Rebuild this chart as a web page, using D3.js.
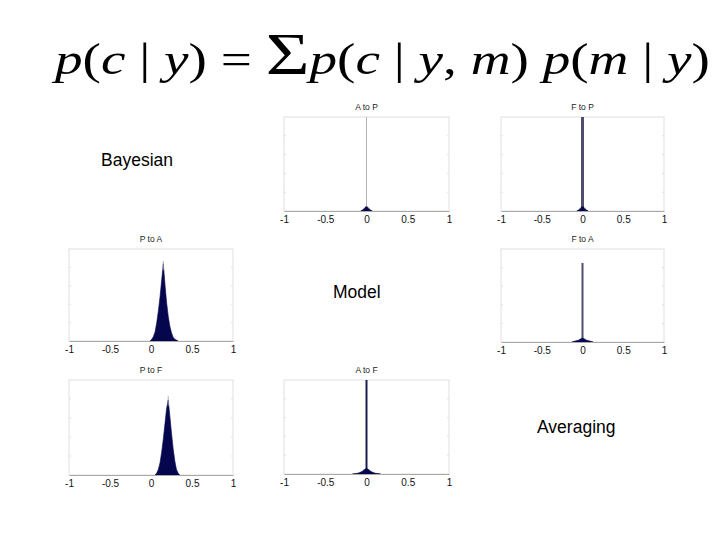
<!DOCTYPE html>
<html><head><meta charset="utf-8">
<script src="https://cdn.jsdelivr.net/npm/d3@7"></script>
<style>body{margin:0;background:#fff}svg{display:block}</style>
</head><body>
<svg id="c" width="720" height="540"></svg>
<script>
// ---- data ----
const xTicks = [-1, -0.5, 0, 0.5, 1];
const xTickLabels = ["-1", "-0.5", "0", "0.5", "1"];
const panelTitles = ["A to P", "F to P", "P to A", "F to A", "P to F", "A to F"];
const binWidth = 0.02;

// bin centres and heights (fraction of axis height)
const atoPx = [-0.05, -0.03, -0.01, 0.01, 0.03, 0.05];
const atoPy = [0.01, 0.025, 0.045, 0.045, 0.025, 0.01];
const ftoPx = [-0.05, -0.03, -0.01, 0.01, 0.03, 0.05];
const ftoPy = [0.01, 0.025, 0.045, 0.045, 0.025, 0.01];
const ptoAx = [0.01, 0.03, 0.05, 0.07, 0.09, 0.11, 0.13, 0.15, 0.17, 0.19, 0.21, 0.23, 0.25, 0.27, 0.29, 0.31];
const ptoAy = [0.02, 0.05, 0.10, 0.20, 0.33, 0.48, 0.66, 0.84, 0.62, 0.42, 0.27, 0.16, 0.09, 0.04, 0.02, 0.01];
const ftoAx = [-0.11, -0.09, -0.07, -0.05, -0.03, -0.01, 0.01, 0.03, 0.05, 0.07, 0.09, 0.11];
const ftoAy = [0.005, 0.01, 0.015, 0.02, 0.03, 0.04, 0.04, 0.03, 0.02, 0.015, 0.01, 0.005];
const ptoFx = [0.07, 0.09, 0.11, 0.13, 0.15, 0.17, 0.19, 0.21, 0.23, 0.25, 0.27, 0.29, 0.31, 0.33];
const ptoFy = [0.02, 0.06, 0.13, 0.24, 0.38, 0.54, 0.70, 0.79, 0.62, 0.44, 0.28, 0.15, 0.06, 0.02];
const atoFx = [-0.15, -0.13, -0.11, -0.09, -0.07, -0.05, -0.03, -0.01, 0.01, 0.03, 0.05, 0.07, 0.09, 0.11, 0.13, 0.15];
const atoFy = [0.003, 0.005, 0.008, 0.012, 0.02, 0.03, 0.045, 0.055, 0.055, 0.045, 0.03, 0.02, 0.012, 0.008, 0.005, 0.003];

const binXs = [atoPx, ftoPx, ptoAx, ftoAx, ptoFx, atoFx];
const binYs = [atoPy, ftoPy, ptoAy, ftoAy, ptoFy, atoFy];
// spike at zero (fraction of axis height), null = none
const spikeHeights = [1.0, 1.0, null, 0.85, null, 1.0];
const peakLines = [null, null, [0.15, 0.87], null, [0.21, 0.83], null];

const textLabels = ["Bayesian", "Model", "Averaging"];

// ---- layout (styling only) ----
const boxes = [
  {l: 284, r: 449, t: 117, b: 211},
  {l: 501, r: 664, t: 117, b: 211},
  {l: 69,  r: 233, t: 249, b: 341},
  {l: 501, r: 664, t: 249, b: 342},
  {l: 69,  r: 233, t: 380, b: 475},
  {l: 284, r: 449, t: 380, b: 474}
];
const spikeStyle = [
  {c: "#b4b4b4", w: 1},
  {c: "#4e4e6e", w: 3},
  null,
  {c: "#4e4e6e", w: 2},
  null,
  {c: "#1c1c4c", w: 2}
];
const navy = "#06064e";

const svg = d3.select("#c");

boxes.forEach((bx, i) => {
  const x = d3.scaleLinear().domain([-1, 1]).range([bx.l, bx.r]);
  const y = d3.scaleLinear().domain([0, 1]).range([bx.b, bx.t]);
  const g = svg.append("g");

  // frame
  g.append("rect").attr("x", bx.l).attr("y", bx.t)
    .attr("width", bx.r - bx.l).attr("height", bx.b - bx.t)
    .attr("fill", "none").attr("stroke", "#e0e0e0").attr("stroke-width", 1);

  // faint y ticks on both sides
  const yt = [0.2, 0.4, 0.6, 0.8];
  yt.forEach(v => {
    g.append("line").attr("x1", bx.l).attr("x2", bx.l + 2).attr("y1", y(v)).attr("y2", y(v)).attr("stroke", "#e0e0e0");
    g.append("line").attr("x1", bx.r - 2).attr("x2", bx.r).attr("y1", y(v)).attr("y2", y(v)).attr("stroke", "#e0e0e0");
  });

  // spike
  if (spikeHeights[i] != null) {
    const s = spikeStyle[i];
    g.append("line").attr("x1", x(0)).attr("x2", x(0))
      .attr("y1", y(0)).attr("y2", y(spikeHeights[i]))
      .attr("stroke", s.c).attr("stroke-width", s.w);
  }

  // histogram as a filled area through bin centres
  const xs = binXs[i], ys = binYs[i];
  const pts = xs.map((cx, k) => [cx, ys[k]]);
  pts.unshift([xs[0] - binWidth, 0]);
  pts.push([xs[xs.length - 1] + binWidth, 0]);
  const area = d3.area().curve(d3.curveLinear)
    .x(d => x(d[0])).y0(y(0)).y1(d => y(d[1]));
  g.append("path").attr("d", area(pts))
    .attr("fill", navy).attr("stroke", navy).attr("stroke-width", 0.6);

  if (peakLines[i]) {
    const [px, ph] = peakLines[i];
    g.append("line").attr("x1", x(px)).attr("x2", x(px))
      .attr("y1", y(ph - 0.1)).attr("y2", y(ph))
      .attr("stroke", "#9a9aaa").attr("stroke-width", 0.8);
  }

  // x axis
  const axis = d3.axisBottom(x).tickValues(xTicks).tickSize(0)
    .tickFormat((d, k) => xTickLabels[k]);
  const ag = g.append("g").attr("transform", `translate(0,${bx.b})`).call(axis);
  ag.select(".domain").attr("stroke", "#a8a8a8");
  ag.selectAll("text").attr("font-family", "Liberation Sans, Arial, sans-serif")
    .attr("font-size", 10).attr("fill", "#111").attr("dy", "0.85em");

  // title
  g.append("text").attr("x", (bx.l + bx.r) / 2).attr("y", bx.t - 7)
    .attr("text-anchor", "middle").attr("font-family", "Liberation Sans, Arial, sans-serif")
    .attr("font-size", 8.5).attr("fill", "#222").text(panelTitles[i]);
});

// slide labels
const labelPos = [[101, 166], [333, 298], [537, 433]];
textLabels.forEach((t, i) => {
  svg.append("text").attr("x", labelPos[i][0]).attr("y", labelPos[i][1])
    .attr("font-family", "Liberation Sans, Arial, sans-serif").attr("font-size", 17.5)
    .attr("fill", "#000").text(t);
});

// formula
const f = svg.append("text").attr("x", 55).attr("y", 74)
  .attr("font-family", "Liberation Serif, Times New Roman, serif").attr("font-size", 44)
  .attr("fill", "#000").attr("textLength", 655).attr("lengthAdjust", "spacingAndGlyphs");
const parts = [
  ["p", true], ["(", false], ["c", true], [" | ", false], ["y", true], [")", false],
  [" = ", false], ["Σ", false, 60], ["p", true], ["(", false], ["c", true], [" | ", false],
  ["y", true], [", ", false], ["m", true], [")", false], [" ", false], ["p", true], ["(", false],
  ["m", true], [" | ", false], ["y", true], [")", false]
];
parts.forEach(p => {
  const ts = f.append("tspan").text(p[0]).attr("font-style", p[1] ? "italic" : "normal");
  if (p[2]) ts.attr("font-size", p[2]);
});
</script>
</body></html>
